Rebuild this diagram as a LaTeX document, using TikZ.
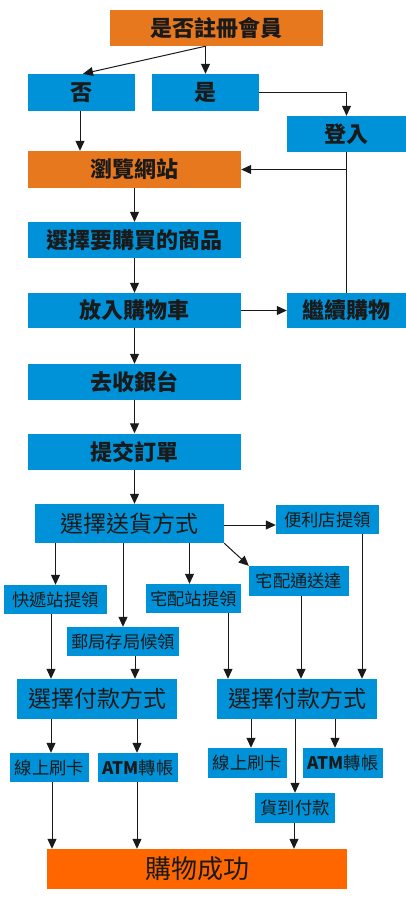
\documentclass[tikz,border=0pt]{standalone}
\usepackage{fontspec}
\setmainfont{Noto Sans CJK TC}
\usetikzlibrary{arrows.meta}
\definecolor{boxblue}{HTML}{0092D8}
\definecolor{boxorange}{HTML}{E8781E}
\definecolor{doneorange}{HTML}{FF6600}
\definecolor{ink}{HTML}{1A1A1A}
\begin{document}
\begin{tikzpicture}[x=1pt,y=-1pt,
  bluebox/.style={fill=boxblue,inner sep=0pt,text=ink},
  orangebox/.style={fill=boxorange,inner sep=0pt,text=ink},
  up/.style={font=\bfseries\fontsize{22}{22}\selectfont},
  mid/.style={font=\fontsize{23}{23}\selectfont},
  low/.style={font=\fontsize{17.3}{17.3}\selectfont},
  sz/.style 2 args={minimum width=#1,minimum height=#2},
  arr/.style={draw=ink,line width=1pt,-{Triangle[width=9pt,length=10pt]}},
  ln/.style={draw=ink,line width=1pt}]
\fill[white] (0,0) rectangle (406,900);
\useasboundingbox (0,0) rectangle (406,900);
% upper part
\node[orangebox,up,sz={213pt}{36pt}] (q) at (216.5,28) {是否註冊會員};
\node[bluebox,up,sz={107pt}{37pt}] (no) at (81.5,92.5) {否};
\node[bluebox,up,sz={107pt}{37pt}] (yes) at (205.5,92.5) {是};
\node[bluebox,up,sz={119pt}{36pt}] (login) at (346.5,134) {登入};
\node[orangebox,up,sz={213pt}{37pt}] (browse) at (134.5,169.5) {瀏覽網站};
\node[bluebox,up,sz={213pt}{36pt}] (select) at (134.5,240) {選擇要購買的商品};
\node[bluebox,up,sz={213pt}{35pt}] (cart) at (134.5,310.5) {放入購物車};
\node[bluebox,up,sz={119pt}{35pt}] (cont) at (346.5,310.5) {繼續購物};
\node[bluebox,up,sz={213pt}{36pt}] (checkout) at (134.5,382) {去收銀台};
\node[bluebox,up,sz={213pt}{36pt}] (submit) at (134.5,451.5) {提交訂單};
% shipping
\node[bluebox,mid,sz={189pt}{39pt}] (ship) at (129.5,523.5) {選擇送貨方式};
\node[bluebox,low,sz={103pt}{29pt}] (conv) at (327.5,519.5) {便利店提領};
\node[bluebox,low,sz={100pt}{30pt}] (home) at (299,581) {宅配通送達};
\node[bluebox,low,sz={103pt}{29pt}] (exp) at (55.5,599.5) {快遞站提領};
\node[bluebox,low,sz={95pt}{29pt}] (homest) at (193.5,598.5) {宅配站提領};
\node[bluebox,low,sz={112pt}{29pt}] (post) at (123,641.5) {郵局存局候領};
% payment
\node[bluebox,mid,sz={160pt}{40pt}] (pay1) at (97,699) {選擇付款方式};
\node[bluebox,mid,sz={160pt}{40pt}] (pay2) at (297,699) {選擇付款方式};
\node[bluebox,low,sz={79pt}{29pt}] (card1) at (49.5,767.5) {線上刷卡};
\node[bluebox,low,sz={80pt}{29pt}] (atm1) at (138,767.5) {{\bfseries ATM}轉帳};
\node[bluebox,low,sz={79pt}{30pt}] (card2) at (247.5,763) {線上刷卡};
\node[bluebox,low,sz={80pt}{30pt}] (atm2) at (343,763) {{\bfseries ATM}轉帳};
\node[bluebox,low,sz={80pt}{30pt}] (cod) at (295,808) {貨到付款};
\node[fill=doneorange,inner sep=0pt,text=ink,font=\fontsize{26}{26}\selectfont,sz={300pt}{40pt}] (done) at (197,869) {購物成功};
% connector anchor points
\coordinate (qs) at (q.south -| yes.north);
\coordinate (noin) at ([xshift=1.5pt]no.north);
\coordinate (noout) at ([xshift=-1.5pt]no.south);
\coordinate (hsin) at ([xshift=-4pt]homest.north);
\coordinate (expout) at ([xshift=-4.5pt]exp.south);
\coordinate (postout) at ([xshift=12pt]post.south);
\coordinate (hsout) at ([xshift=34.5pt]homest.south);
\coordinate (homeout) at ([xshift=2pt]home.south);
\coordinate (convout) at ([xshift=34.5pt]conv.south);
\coordinate (c1in) at ([xshift=1.5pt]card1.north);
\coordinate (a1in) at ([xshift=-1pt]atm1.north);
\coordinate (c2in) at ([xshift=3.5pt]card2.north);
\coordinate (a2in) at ([xshift=-8pt]atm2.north);
\coordinate (c1out) at ([xshift=2.5pt]card1.south);
\coordinate (a1out) at ([xshift=-1pt]atm1.south);
\coordinate (codout) at ([xshift=-1pt]cod.south);
\coordinate (shipr) at ([yshift=-1.5pt]ship.east);
% connectors: top
\draw[arr] (qs) -- (yes.north);
\draw[arr] (qs) -- (noin);
\draw[arr] (yes.east) -| (login.north);
\draw[arr] (noout) -- (noout |- browse.north);
\draw[ln] (login.south) -- (cont.north);
\draw[arr] (login.south |- browse.east) -- (browse.east);
\draw[arr] (browse.south) -- (select.north);
\draw[arr] (select.south) -- (cart.north);
\draw[arr] (cart.east) -- (cont.west);
\draw[arr] (cart.south) -- (checkout.north);
\draw[arr] (checkout.south) -- (submit.north);
\draw[arr] (submit.south) -- (submit.south |- ship.north);
% shipping connectors
\draw[arr] (shipr) -- (shipr -| conv.west);
\draw[arr] (ship.south east) -- (home.north west);
\draw[arr] (ship.south -| exp.north) -- (exp.north);
\draw[arr] (ship.south -| post.north) -- (post.north);
\draw[arr] (ship.south -| hsin) -- (hsin);
\draw[arr] (expout) -- (expout |- pay1.north);
\draw[arr] (postout) -- (postout |- pay1.north);
\draw[arr] (hsout) -- (hsout |- pay2.north);
\draw[arr] (homeout) -- (homeout |- pay2.north);
\draw[arr] (convout) -- (convout |- pay2.north);
% payment connectors
\draw[arr] (pay1.south -| c1in) -- (c1in);
\draw[arr] (pay1.south -| a1in) -- (a1in);
\draw[arr] (pay2.south -| c2in) -- (c2in);
\draw[arr] (pay2.south -| a2in) -- (a2in);
\draw[arr] (pay2.south -| cod.north) -- (cod.north);
\draw[arr] (c1out) -- (c1out |- done.north);
\draw[arr] (a1out) -- (a1out |- done.north);
\draw[arr] (codout) -- (codout |- done.north);
\end{tikzpicture}
\end{document}
